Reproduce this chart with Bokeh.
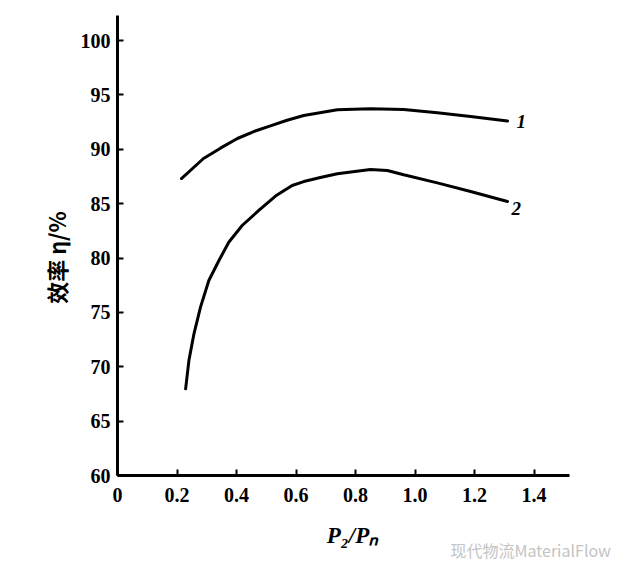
import math
from bokeh.plotting import figure
from bokeh.models import Range1d, FixedTicker, Label, ColumnDataSource
from bokeh.core.properties import value
from bokeh.embed import file_html
from bokeh.resources import INLINE

# ---- data ----
x_ticks = [0, 0.2, 0.4, 0.6, 0.8, 1.0, 1.2, 1.4]
x_tick_labels = ["0", "0.2", "0.4", "0.6", "0.8", "1.0", "1.2", "1.4"]
y_ticks = [60, 65, 70, 75, 80, 85, 90, 95, 100]
y_tick_labels = ["60", "65", "70", "75", "80", "85", "90", "95", "100"]

curve1_x = [0.215, 0.289, 0.346, 0.403, 0.458, 0.514, 0.570, 0.626, 0.739, 0.850, 0.962, 1.075, 1.187, 1.311]
curve1_y = [87.31, 89.15, 90.10, 90.99, 91.63, 92.15, 92.67, 93.10, 93.63, 93.72, 93.66, 93.35, 93.01, 92.60]

curve2_x = [0.229, 0.240, 0.257, 0.279, 0.307, 0.341, 0.374, 0.419, 0.475, 0.531, 0.587, 0.626,
            0.682, 0.739, 0.850, 0.907, 0.962, 1.075, 1.187, 1.311]
curve2_y = [67.97, 70.57, 73.03, 75.48, 77.93, 79.77, 81.45, 82.99, 84.37, 85.70, 86.67, 87.03,
            87.40, 87.75, 88.14, 88.05, 87.65, 86.91, 86.11, 85.20]

curve_names = ["1", "2"]

x_title = "P₂/Pₙ"
y_title = "效率 η/%"
watermark = "现代物流MaterialFlow"

# ---- figure: the frame covers the whole canvas, axes are drawn at fixed locations ----
W, H = 624, 561
X_MIN, X_MAX = 0, 1.52
Y_MIN, Y_MAX = 60, 102.3
PX_X = 297.5    # pixels per x unit
PX_Y = 10.875   # pixels per y unit
AX_LEFT, AX_TOP = 117, 15  # pixel position of the axes corner (left) and axis top

x_range = Range1d(X_MIN - AX_LEFT / PX_X, X_MAX + (W - AX_LEFT - (X_MAX - X_MIN) * PX_X) / PX_X)
y_top = Y_MAX + AX_TOP / PX_Y
y_range = Range1d(y_top - H / PX_Y, y_top)

p = figure(width=W, height=H, output_backend="svg", toolbar_location=None,
           x_range=x_range, y_range=y_range,
           min_border_left=0, min_border_right=0, min_border_top=0, min_border_bottom=0)
p.grid.visible = False
p.outline_line_color = None
p.background_fill_color = "white"
p.border_fill_color = "white"

serif = "Liberation Serif"

for ax in (p.xaxis, p.yaxis):
    ax.axis_line_width = 3
    ax.axis_line_color = "black"
    ax.major_tick_line_width = 2
    ax.major_tick_line_color = "black"
    ax.minor_tick_line_color = None
    ax.major_tick_out = 0
    ax.major_tick_in = 6
    ax.major_label_text_font = serif
    ax.major_label_text_font_style = "bold"
    ax.major_label_text_font_size = "20px"
    ax.major_label_text_color = "black"

p.xaxis.fixed_location = Y_MIN
p.xaxis.bounds = (X_MIN, X_MAX)
p.yaxis.fixed_location = X_MIN
p.yaxis.bounds = (Y_MIN, Y_MAX)

p.xaxis.ticker = FixedTicker(ticks=x_ticks)
p.xaxis.major_label_overrides = {t: s for t, s in zip(x_ticks, x_tick_labels)}
p.yaxis.ticker = FixedTicker(ticks=y_ticks)
p.yaxis.major_label_overrides = {t: s for t, s in zip(y_ticks, y_tick_labels)}
p.xaxis.major_label_standoff = 12
p.yaxis.major_label_standoff = 7

# axis titles (placed as labels so that they sit where the reference has them)
p.add_layout(Label(x=352, y=H - 535, x_units="screen", y_units="screen", text=x_title,
                   text_font=serif, text_font_style="bold italic", text_font_size="23px",
                   text_color="black", text_align="center", text_baseline="middle"))
p.add_layout(Label(x=55, y=H - 257, x_units="screen", y_units="screen", text=y_title,
                   angle=math.pi / 2,
                   text_font="Noto Sans CJK SC", text_font_style="bold", text_font_size="22px",
                   text_color="black", text_align="center", text_baseline="middle"))

# ---- curves ----
p.line(curve1_x, curve1_y, line_color="black", line_width=3, line_cap="round", line_join="round")
p.line(curve2_x, curve2_y, line_color="black", line_width=3, line_cap="round", line_join="round")

lbl = ColumnDataSource(dict(x=[curve1_x[-1], curve2_x[-1]], y=[curve1_y[-1], curve2_y[-1]],
                            t=curve_names, xo=[9, 4], yo=[1, 7]))
p.text(x="x", y="y", text="t", x_offset="xo", y_offset="yo", source=lbl,
       text_font=value(serif), text_font_style="bold italic", text_font_size="19px",
       text_baseline="middle", text_align="left", text_color="black")

# ---- watermark ----
p.add_layout(Label(x=450, y=12, x_units="screen", y_units="screen", text=watermark,
                   text_font="Noto Sans CJK SC", text_font_size="16px", text_color="#c4c4c4",
                   text_baseline="middle", text_align="left"))

open("out.html", "w").write(file_html(p, INLINE))
